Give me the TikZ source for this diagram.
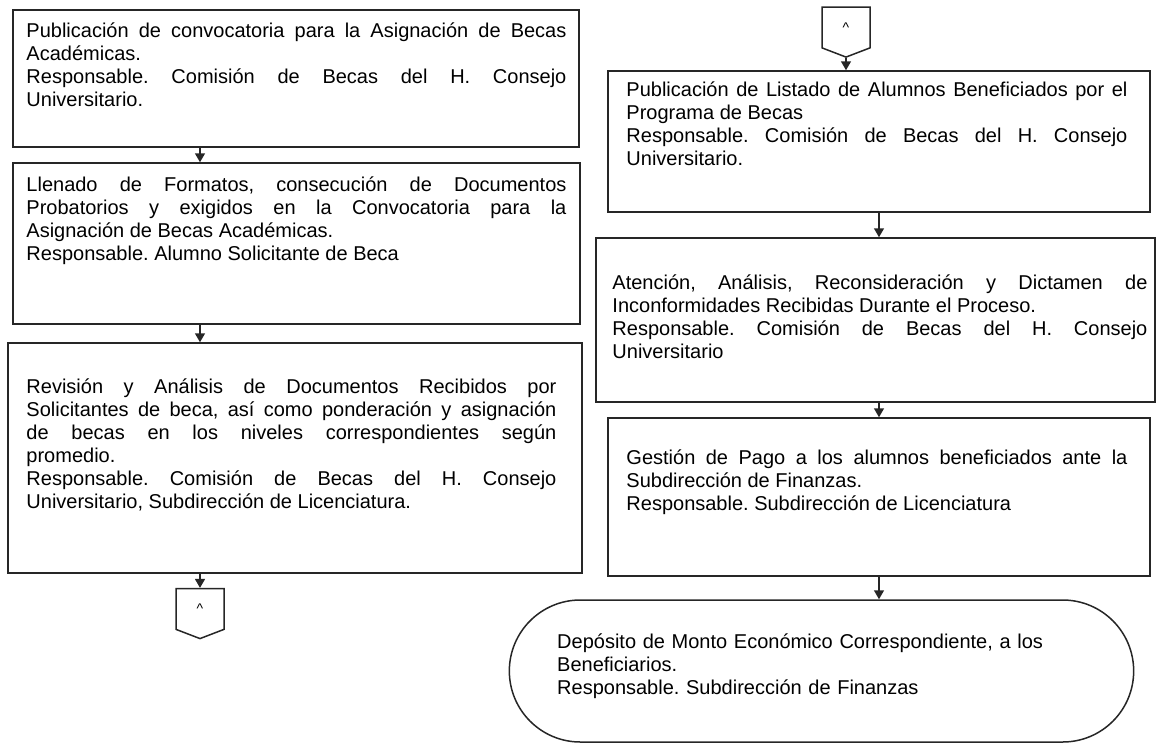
\documentclass[tikz,border=0pt]{standalone}
\usepackage{fontspec}
\setmainfont{Liberation Sans}
\usepackage{tikz}
\usetikzlibrary{shapes.misc, shapes.symbols, arrows.meta, positioning, calc}
\tolerance=10000
\hbadness=10000
\hyphenpenalty=10000
\frenchspacing

\tikzset{
  caja/.style={draw=black!85, line width=1.5pt, rectangle},
  texto/.style={anchor=base west, inner sep=0pt, align=justify, font=\fontsize{20pt}{23pt}\selectfont},
  conector/.style={draw=black!85, line width=1.5pt, signal, signal to=south, signal pointer angle=138, minimum width=48pt, minimum height=42pt, inner sep=0pt, font=\fontsize{14pt}{16pt}\selectfont},
  flecha/.style={-{Triangle[length=9pt,width=10pt]}, line width=1.5pt, draw=black!85}
}

\begin{document}
\begin{tikzpicture}[x=1pt, y=-1pt]
\useasboundingbox (0,0) rectangle (1157,745);

% Left column
\node[caja, minimum width=566pt, minimum height=137pt] (pub) at (296,78.5) {};
\node[caja, minimum width=567pt, minimum height=161pt] (llen) at (296.5,243.5) {};
\node[caja, minimum width=574pt, minimum height=230pt] (rev) at (295,458) {};
\node[conector] (conA) at (200,609) {\textasciicircum};

\node[texto, text width=540pt] (pubT) at ($(pub.north west)+(14,28)$) {Publicación de convocatoria para la Asignación de Becas\linebreak Académicas.\par Responsable. Comisión de Becas del H. Consejo\linebreak Universitario.};
\node[texto, text width=540pt] (llenT) at ($(llen.north west)+(14,29)$) {Llenado de Formatos, consecución de Documentos\linebreak Probatorios y exigidos en la Convocatoria para la\linebreak Asignación de Becas Académicas.\par Responsable. Alumno Solicitante de Beca};
\node[texto, text width=530pt] (revT) at ($(rev.north west)+(19,51)$) {Revisión y Análisis de Documentos Recibidos por\linebreak Solicitantes de beca, así como ponderación y asignación\linebreak de becas en los niveles correspondientes según\linebreak promedio.\par Responsable. Comisión de Becas del H. Consejo\linebreak Universitario, Subdirección de Licenciatura.};

\draw[flecha] (pub.south -| conA) -- (llen.north -| conA);
\draw[flecha] (llen.south -| conA) -- (rev.north -| conA);
\draw[flecha] (rev.south -| conA) -- (conA.north);

% Right column
\node[conector] (conB) at (846,27.5) {\textasciicircum};
\node[caja, minimum width=542pt, minimum height=141pt] (lista) at (879,141.5) {};
\node[caja, minimum width=559pt, minimum height=164pt] (aten) at (875.5,320) {};
\node[caja, minimum width=542pt, minimum height=158pt] (pago) at (879,497) {};
\node[caja, rounded rectangle, minimum width=631pt, minimum height=142pt] (dep) at (821.5,671) {};

\node[texto, text width=501pt] (listaT) at ($(lista.north west)+(19,26)$) {Publicación de Listado de Alumnos Beneficiados por el\linebreak Programa de Becas\par Responsable. Comisión de Becas del H. Consejo\linebreak Universitario.};
\node[texto, text width=535pt] (atenT) at ($(aten.north west)+(17,52)$) {Atención, Análisis, Reconsideración y Dictamen de\linebreak Inconformidades Recibidas Durante el Proceso.\par Responsable. Comisión de Becas del H. Consejo\linebreak Universitario};
\node[texto, text width=501pt] (pagoT) at ($(pago.north west)+(19,47)$) {Gestión de Pago a los alumnos beneficiados ante la\linebreak Subdirección de Finanzas.\par Responsable. Subdirección de Licenciatura};
\node[texto, align=left, text width=530pt] (depT) at (557,648) {Depósito de Monto Económico Correspondiente, a los\\ Beneficiarios.\\ Responsable. Subdirección de Finanzas};

\draw[flecha] (conB.south) -- (lista.north -| conB.south);
\draw[flecha] (lista.south) -- (aten.north -| lista.south);
\draw[flecha] (aten.south -| lista.south) -- (pago.north -| lista.south);
\draw[flecha] (pago.south) -- (dep.north -| pago.south);

\end{tikzpicture}
\end{document}
